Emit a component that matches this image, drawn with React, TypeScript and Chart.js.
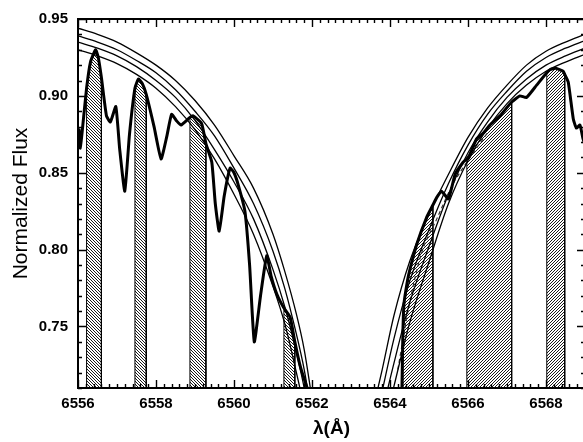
import React, { useEffect, useRef } from "react";
import { Chart, registerables } from "chart.js";

Chart.register(...registerables);

const FONT = "'Liberation Sans', Arial, Helvetica, sans-serif";

// Axes
const xRange = [6556, 6569];
const yRange = [0.71, 0.95];
const xTickLabels = [6556, 6558, 6560, 6562, 6564, 6566, 6568];
const yTickLabels = [0.75, 0.8, 0.85, 0.9, 0.95];
const xMinorStep = 0.2;
const yMinorStep = 0.01;

// Observed spectrum (blue wing)
const obsBlueWave = [6556.00, 6556.03, 6556.06, 6556.12, 6556.22, 6556.32, 6556.45, 6556.52, 6556.60, 6556.73, 6556.83, 6556.97, 6557.07, 6557.20, 6557.32, 6557.46, 6557.55, 6557.65, 6557.75, 6557.95, 6558.13, 6558.28, 6558.40, 6558.52, 6558.64, 6558.87, 6558.95, 6559.17, 6559.28, 6559.43, 6559.52, 6559.62, 6559.75, 6559.90, 6560.00, 6560.11, 6560.28, 6560.40, 6560.52, 6560.68, 6560.84, 6560.95, 6561.10, 6561.28, 6561.44, 6561.56, 6561.70, 6561.85, 6561.95];
const obsBlueFlux = [0.868, 0.878, 0.866, 0.880, 0.905, 0.922, 0.930, 0.925, 0.912, 0.887, 0.883, 0.893, 0.865, 0.838, 0.875, 0.905, 0.911, 0.908, 0.901, 0.880, 0.859, 0.874, 0.888, 0.884, 0.881, 0.886, 0.887, 0.882, 0.869, 0.857, 0.830, 0.812, 0.835, 0.853, 0.850, 0.842, 0.825, 0.790, 0.740, 0.770, 0.796, 0.783, 0.771, 0.762, 0.756, 0.740, 0.724, 0.712, 0.705];

// Observed spectrum (red wing)
const obsRedWave = [6564.30, 6564.33, 6564.36, 6564.45, 6564.51, 6564.68, 6564.94, 6565.10, 6565.20, 6565.32, 6565.50, 6565.67, 6565.88, 6565.97, 6566.05, 6566.22, 6566.40, 6566.56, 6566.82, 6567.12, 6567.33, 6567.50, 6567.76, 6568.02, 6568.10, 6568.25, 6568.44, 6568.48, 6568.57, 6568.70, 6568.78, 6568.87, 6568.95, 6569.00];
const obsRedFlux = [0.700, 0.745, 0.765, 0.780, 0.787, 0.803, 0.821, 0.829, 0.834, 0.838, 0.833, 0.849, 0.857, 0.859, 0.862, 0.872, 0.876, 0.881, 0.887, 0.896, 0.900, 0.899, 0.907, 0.915, 0.917, 0.918, 0.916, 0.914, 0.909, 0.885, 0.879, 0.881, 0.872, 0.868];

// Model profiles (blue wing)
const modelBlueWave = [6556.0, 6556.5, 6557.0, 6557.5, 6558.0, 6558.5, 6559.0, 6559.5, 6560.0, 6560.5, 6561.0, 6561.3, 6561.6, 6561.8, 6562.0];
const modelBlue1 = [0.944, 0.940, 0.935, 0.928, 0.920, 0.910, 0.897, 0.881, 0.861, 0.840, 0.810, 0.786, 0.758, 0.735, 0.703];
const modelBlue2 = [0.939, 0.935, 0.930, 0.923, 0.915, 0.904, 0.890, 0.874, 0.853, 0.830, 0.799, 0.775, 0.745, 0.722, 0.692];
const modelBlue3 = [0.935, 0.931, 0.926, 0.919, 0.910, 0.899, 0.884, 0.865, 0.844, 0.820, 0.787, 0.763, 0.733, 0.710, 0.681];
const modelBlue4 = [0.930, 0.926, 0.921, 0.914, 0.905, 0.893, 0.878, 0.859, 0.836, 0.810, 0.776, 0.752, 0.720, 0.697, 0.670];

// Model profiles (red wing)
const modelRedWave = [6563.6, 6563.8, 6564.1, 6564.5, 6565.0, 6565.5, 6566.0, 6566.5, 6567.0, 6567.5, 6568.0, 6568.5, 6569.0];
const modelRed1 = [0.700, 0.722, 0.757, 0.792, 0.823, 0.849, 0.873, 0.892, 0.907, 0.920, 0.929, 0.935, 0.940];
const modelRed2 = [0.685, 0.708, 0.742, 0.779, 0.813, 0.843, 0.868, 0.888, 0.903, 0.916, 0.925, 0.931, 0.936];
const modelRed3 = [0.670, 0.694, 0.726, 0.765, 0.802, 0.836, 0.863, 0.883, 0.899, 0.911, 0.920, 0.926, 0.931];
const modelRed4 = [0.655, 0.680, 0.711, 0.752, 0.792, 0.830, 0.858, 0.879, 0.895, 0.907, 0.916, 0.922, 0.927];

// Dashed fit (red wing)
const fitRedWave = [6564.2, 6564.5, 6564.8, 6565.2, 6565.6, 6566.0, 6566.5];
const fitRedFlux = [0.722, 0.765, 0.797, 0.820, 0.842, 0.858, 0.876];

// Hatched integration windows [start, end]
const windowsBlue: [number, number][] = [[6556.22, 6556.60], [6557.46, 6557.75], [6558.87, 6559.28], [6561.28, 6561.56]];
const windowsRed: [number, number][] = [[6564.33, 6565.10], [6565.97, 6567.12], [6568.02, 6568.48]];

function pts(w: number[], f: number[]) {
  return w.map((x, i) => ({ x, y: f[i] }));
}

function windowPts(w: number[], f: number[], a: number, b: number, floor: number) {
  const out = [{ x: a, y: floor }];
  for (let i = 0; i < w.length; i++) {
    if (w[i] >= a - 1e-9 && w[i] <= b + 1e-9) out.push({ x: w[i], y: f[i] });
  }
  out.push({ x: b, y: floor });
  return out;
}

function makeHatch(dir: "back" | "fwd") {
  const s = 3;
  const c = document.createElement("canvas");
  c.width = s;
  c.height = s;
  const g = c.getContext("2d")!;
  g.fillStyle = "#fff";
  g.fillRect(0, 0, s, s);
  g.strokeStyle = "#000";
  g.lineWidth = 0.9;
  g.beginPath();
  if (dir === "back") {
    g.moveTo(-1, -1); g.lineTo(s + 1, s + 1);
    g.moveTo(-1, s - 1); g.lineTo(1, s + 1);
    g.moveTo(s - 1, -1); g.lineTo(s + 1, 1);
  } else {
    g.moveTo(-1, s + 1); g.lineTo(s + 1, -1);
    g.moveTo(-1, 1); g.lineTo(1, -1);
    g.moveTo(s - 1, s + 1); g.lineTo(s + 1, s - 1);
  }
  g.stroke();
  return g.createPattern(c, "repeat")!;
}

const frameTicks = {
  id: "frameTicks",
  afterDraw(chart: any) {
    const { ctx, chartArea } = chart;
    const { left, right, top, bottom } = chartArea;
    const xs = chart.scales.x;
    const ys = chart.scales.y;
    ctx.save();
    ctx.strokeStyle = "#000";
    ctx.lineWidth = 1.4;
    const nx = Math.round((xRange[1] - xRange[0]) / xMinorStep);
    for (let i = 0; i <= nx; i++) {
      const v = xRange[0] + i * xMinorStep;
      const major = xTickLabels.some((t) => Math.abs(t - v) < 1e-6);
      const len = major ? 8 : 4;
      const px = Math.round(xs.getPixelForValue(v)) + 0.5;
      ctx.beginPath();
      ctx.moveTo(px, bottom); ctx.lineTo(px, bottom - len);
      ctx.moveTo(px, top); ctx.lineTo(px, top + len);
      ctx.stroke();
    }
    const ny = Math.round((yRange[1] - yRange[0]) / yMinorStep);
    for (let i = 0; i <= ny; i++) {
      const v = yRange[0] + i * yMinorStep;
      const major = yTickLabels.some((t) => Math.abs(t - v) < 1e-6);
      const len = major ? 8 : 4;
      const py = Math.round(ys.getPixelForValue(v)) + 0.5;
      ctx.beginPath();
      ctx.moveTo(left, py); ctx.lineTo(left + len, py);
      ctx.moveTo(right, py); ctx.lineTo(right - len, py);
      ctx.stroke();
    }
    ctx.lineWidth = 2;
    ctx.strokeRect(left, top, right - left, bottom - top);
    ctx.restore();
  },
};

export default function App() {
  const ref = useRef<HTMLCanvasElement>(null);

  useEffect(() => {
    document.body.style.margin = "0";
    const canvas = ref.current!;
    const floor = yRange[0] - 0.01;
    const hatchBack = makeHatch("back");
    const hatchFwd = makeHatch("fwd");

    const windowSets: any[] = [
      ...windowsBlue.map(([a, b]) => ({
        data: windowPts(obsBlueWave, obsBlueFlux, a, b, floor),
        backgroundColor: hatchBack,
      })),
      ...windowsRed.map(([a, b]) => ({
        data: windowPts(obsRedWave, obsRedFlux, a, b, floor),
        backgroundColor: hatchFwd,
      })),
    ].map((d) => ({
      ...d,
      borderColor: "#000",
      borderWidth: 1,
      fill: "start",
      pointRadius: 0,
      tension: 0,
      order: 3,
    }));

    const modelSets: any[] = [
      modelBlue1, modelBlue2, modelBlue3, modelBlue4,
    ].map((f) => ({ data: pts(modelBlueWave, f) })).concat(
      [modelRed1, modelRed2, modelRed3, modelRed4].map((f) => ({ data: pts(modelRedWave, f) }))
    ).map((d) => ({
      ...d,
      borderColor: "#000",
      borderWidth: 1.3,
      fill: false,
      pointRadius: 0,
      cubicInterpolationMode: "monotone",
      order: 2,
    }));

    const fitSet = {
      data: pts(fitRedWave, fitRedFlux),
      borderColor: "#333",
      borderWidth: 1.2,
      borderDash: [4, 3],
      fill: false,
      pointRadius: 0,
      cubicInterpolationMode: "monotone",
      order: 2,
    };

    const obsSets = [pts(obsBlueWave, obsBlueFlux), pts(obsRedWave, obsRedFlux)].map((data) => ({
      data,
      borderColor: "#000",
      borderWidth: 3,
      borderJoinStyle: "round",
      borderCapStyle: "round",
      fill: false,
      pointRadius: 0,
      tension: 0.15,
      order: 1,
    }));

    const chart = new Chart(canvas, {
      type: "line",
      data: { datasets: [...windowSets, ...modelSets, fitSet, ...obsSets] as any },
      options: {
        animation: false,
        responsive: false,
        events: [],
        layout: { padding: { top: 16, right: 5, left: 0, bottom: 0 } },
        plugins: { legend: { display: false }, tooltip: { enabled: false } },
        scales: {
          x: {
            type: "linear",
            min: xRange[0],
            max: xRange[1],
            afterBuildTicks: (s: any) => {
              s.ticks = xTickLabels.map((v) => ({ value: v }));
            },
            afterFit: (s: any) => {
              s.height = 54;
            },
            grid: { display: false, drawTicks: false },
            border: { display: false },
            ticks: {
              color: "#000",
              font: { family: FONT, size: 15, weight: "bold" },
              padding: 7,
              maxRotation: 0,
              autoSkip: false,
              callback: (v: any) => String(v),
            },
            title: {
              display: true,
              text: "λ(Å)",
              color: "#000",
              font: { family: FONT, size: 19, weight: "bold" },
              padding: { top: 0, bottom: 2 },
            },
          },
          y: {
            type: "linear",
            min: yRange[0],
            max: yRange[1],
            afterBuildTicks: (s: any) => {
              s.ticks = yTickLabels.map((v) => ({ value: v }));
            },
            afterFit: (s: any) => {
              s.width = 78;
            },
            grid: { display: false, drawTicks: false },
            border: { display: false },
            ticks: {
              color: "#000",
              font: { family: FONT, size: 15, weight: "bold" },
              padding: 10,
              callback: (v: any) => Number(v).toFixed(2),
            },
            title: {
              display: true,
              text: "Normalized Flux",
              color: "#000",
              font: { family: FONT, size: 21 },
              padding: { top: 9, bottom: 0 },
            },
          },
        },
      },
      plugins: [frameTicks],
    });
    return () => chart.destroy();
  }, []);

  return (
    <div style={{ position: "absolute", left: 0, top: 0, width: 583, height: 442, overflow: "hidden", background: "#fff" }}>
      <canvas ref={ref} width={590} height={442} style={{ display: "block" }} />
    </div>
  );
}
